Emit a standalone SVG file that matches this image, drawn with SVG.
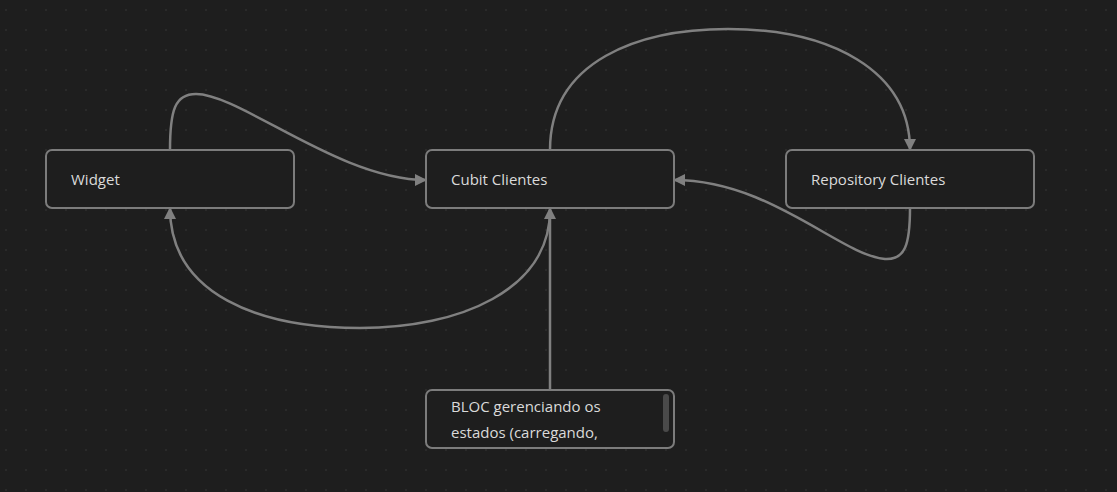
<svg xmlns="http://www.w3.org/2000/svg" width="1117" height="492" viewBox="0 0 1117 492">
  <defs>
    <pattern id="grid" x="0" y="0" width="20" height="20" patternUnits="userSpaceOnUse">
      <rect x="5" y="9" width="2" height="2" fill="#2a2a2a"/>
    </pattern>
    <marker id="arrow" viewBox="0 0 12 12" refX="11" refY="6" markerWidth="12" markerHeight="12" markerUnits="userSpaceOnUse" orient="auto">
      <path d="M0,0 L12,6 L0,12 Z" fill="#808080"/>
    </marker>
  </defs>
  <style>
    .node rect.box { fill: #1e1e1e; stroke: #7c7c7c; stroke-width: 2; }
    .label { font-family: "Open Sans", "Noto Sans", "Liberation Sans", sans-serif; font-size: 15px; fill: #dadada; }
    .edge { fill: none; stroke: #808080; stroke-width: 2.5; marker-end: url(#arrow); }
  </style>
  <rect width="1117" height="492" fill="#1e1e1e"/>
  <rect width="1117" height="492" fill="url(#grid)"/>

  <g id="connectors">
    <path class="edge" d="M170,150 C170,110 175,94 196,94 C240,94 340,180 426,180"/>
    <path class="edge" d="M550,150 C550,60 640,29 728,29 C830,29 910,70 910,150"/>
    <path class="edge" d="M910,208 C910,245 905,260 885,259 C840,255 770,180 674,180"/>
    <path class="edge" d="M550,210 C550,290 460,328 360,328 C260,328 170,295 170,208"/>
    <path class="edge" d="M550,390 L550,208"/>
  </g>

  <g id="node-widget" class="node">
    <rect class="box" x="46" y="150" width="248" height="58" rx="6"/>
    <text class="label" x="71" y="185">Widget</text>
  </g>
  <g id="node-cubit" class="node">
    <rect class="box" x="426" y="150" width="248" height="58" rx="6"/>
    <text class="label" x="451" y="185">Cubit Clientes</text>
  </g>
  <g id="node-repository" class="node">
    <rect class="box" x="786" y="150" width="248" height="58" rx="6"/>
    <text class="label" x="811" y="185">Repository Clientes</text>
  </g>
  <g id="node-bloc" class="node">
    <rect class="box" x="426" y="390" width="248" height="58" rx="6"/>
    <text class="label" x="451" y="412">BLOC gerenciando os</text>
    <text class="label" x="451" y="438">estados (carregando,</text>
    <rect x="663" y="394" width="6" height="38" rx="3" fill="#4a4a4a"/>
  </g>
</svg>
